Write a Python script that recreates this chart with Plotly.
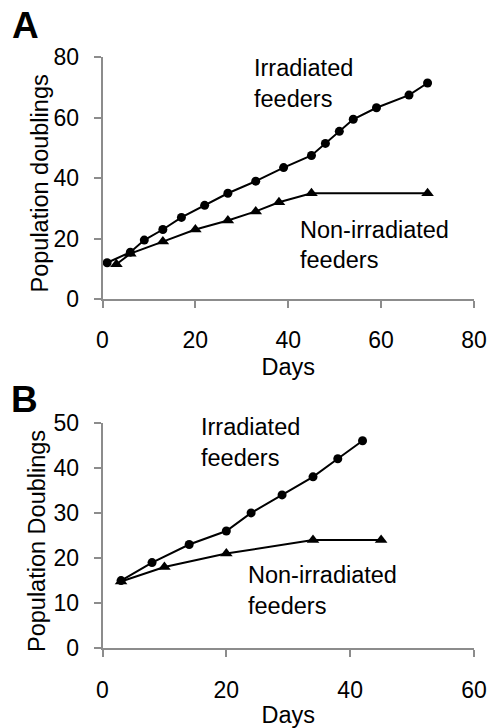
import plotly.graph_objects as go

# Panel A data
a_irr_days = [1, 6, 9, 13, 17, 22, 27, 33, 39, 45, 48, 51, 54, 59, 66, 70]
a_irr_pd = [12, 15.5, 19.5, 23, 27, 31, 35, 39, 43.5, 47.5, 51.5, 55.5, 59.5, 63.3, 67.5, 71.5]
a_non_days = [3, 6, 13, 20, 27, 33, 38, 45, 70]
a_non_pd = [11.5, 15, 19, 23, 26, 29, 32, 35, 35]

# Panel B data
b_irr_days = [3, 8, 14, 20, 24, 29, 34, 38, 42]
b_irr_pd = [15, 19, 23, 26, 30, 34, 38, 42, 46]
b_non_days = [3, 10, 20, 34, 45]
b_non_pd = [14.8, 18, 21, 24, 24]

FONT = "Liberation Sans, Arial, sans-serif"
W, H = 489, 728

fig = go.Figure()

def add_series(x, y, symbol, size, xa, ya):
    fig.add_trace(go.Scatter(
        x=x, y=y, mode="lines+markers",
        line=dict(color="black", width=2),
        marker=dict(symbol=symbol, size=size, color="black"),
        xaxis=xa, yaxis=ya, showlegend=False, hoverinfo="skip"))

add_series(a_irr_days, a_irr_pd, "circle", 9, "x", "y")
add_series(a_non_days, a_non_pd, "triangle-up", 11, "x", "y")
add_series(b_irr_days, b_irr_pd, "circle", 9, "x2", "y2")
add_series(b_non_days, b_non_pd, "triangle-up", 11, "x2", "y2")

xd = [102.5 / W, 474 / W]
ya_dom = [(H - 299) / H, (H - 57.3) / H]
yb_dom = [(H - 648.3) / H, (H - 422.7) / H]

TICKF = dict(family=FONT, size=23, color="black")
TF = dict(family=FONT, size=23.5, color="black")
axis_common = dict(
    showline=True, linecolor="#8c8c8c", linewidth=1.5,
    ticks="outside", ticklen=7, tickcolor="#8c8c8c", tickwidth=1.5,
    showgrid=False, zeroline=False, automargin=False,
    tickfont=TICKF,
)

fig.update_layout(
    template="none",
    width=W, height=H,
    margin=dict(l=0, r=0, t=0, b=0),
    paper_bgcolor="white", plot_bgcolor="white",
    font=dict(family=FONT, color="black"),
    xaxis=dict(domain=xd, range=[0, 80], tickvals=[0, 20, 40, 60, 80], anchor="y",
               ticklabelstandoff=13,
               title=dict(text="Days", font=TF, standoff=6),
               **axis_common),
    yaxis=dict(domain=ya_dom, range=[0, 80], tickvals=[0, 20, 40, 60, 80], anchor="x",
               ticklabelstandoff=10, **axis_common),
    xaxis2=dict(domain=xd, range=[0, 60], tickvals=[0, 20, 40, 60], anchor="y2",
                ticklabelstandoff=13,
                title=dict(text="Days", font=TF, standoff=6),
                **axis_common),
    yaxis2=dict(domain=yb_dom, range=[0, 50], tickvals=[0, 10, 20, 30, 40, 50], anchor="x2",
                ticklabelstandoff=10, **axis_common),
)

# y-axis titles (rotated)
fig.add_annotation(x=39 / W, y=(H - 183.5) / H, xref="paper", yref="paper",
                   text="Population doublings", textangle=-90, showarrow=False,
                   xanchor="center", yanchor="middle", font=TF)
fig.add_annotation(x=36.5 / W, y=(H - 541.5) / H, xref="paper", yref="paper",
                   text="Population Doublings", textangle=-90, showarrow=False,
                   xanchor="center", yanchor="middle", font=TF)

labels = [
    ("x", "y", 32.3, 76.5, "Irradiated"),
    ("x", "y", 32.3, 66.2, "feeders"),
    ("x", "y", 42.2, 22.8, "Non-irradiated"),
    ("x", "y", 42.2, 12.9, "feeders"),
    ("x2", "y2", 15.6, 49.0, "Irradiated"),
    ("x2", "y2", 15.6, 42.1, "feeders"),
    ("x2", "y2", 23.2, 16.2, "Non-irradiated"),
    ("x2", "y2", 23.2, 9.4, "feeders"),
]
for xr, yr, x, y, t in labels:
    fig.add_annotation(x=x, y=y, xref=xr, yref=yr, text=t, showarrow=False,
                       xanchor="left", yanchor="middle",
                       font=dict(family=FONT, size=23.5, color="black"))

fig.add_annotation(x=10 / W, y=(H - 26) / H, xref="paper", yref="paper", text="<b>A</b>",
                   showarrow=False, xanchor="left", yanchor="middle",
                   font=dict(family=FONT, size=37, color="black"))
fig.add_annotation(x=9 / W, y=(H - 399) / H, xref="paper", yref="paper", text="<b>B</b>",
                   showarrow=False, xanchor="left", yanchor="middle",
                   font=dict(family=FONT, size=37, color="black"))

fig.write_html("out.html")
